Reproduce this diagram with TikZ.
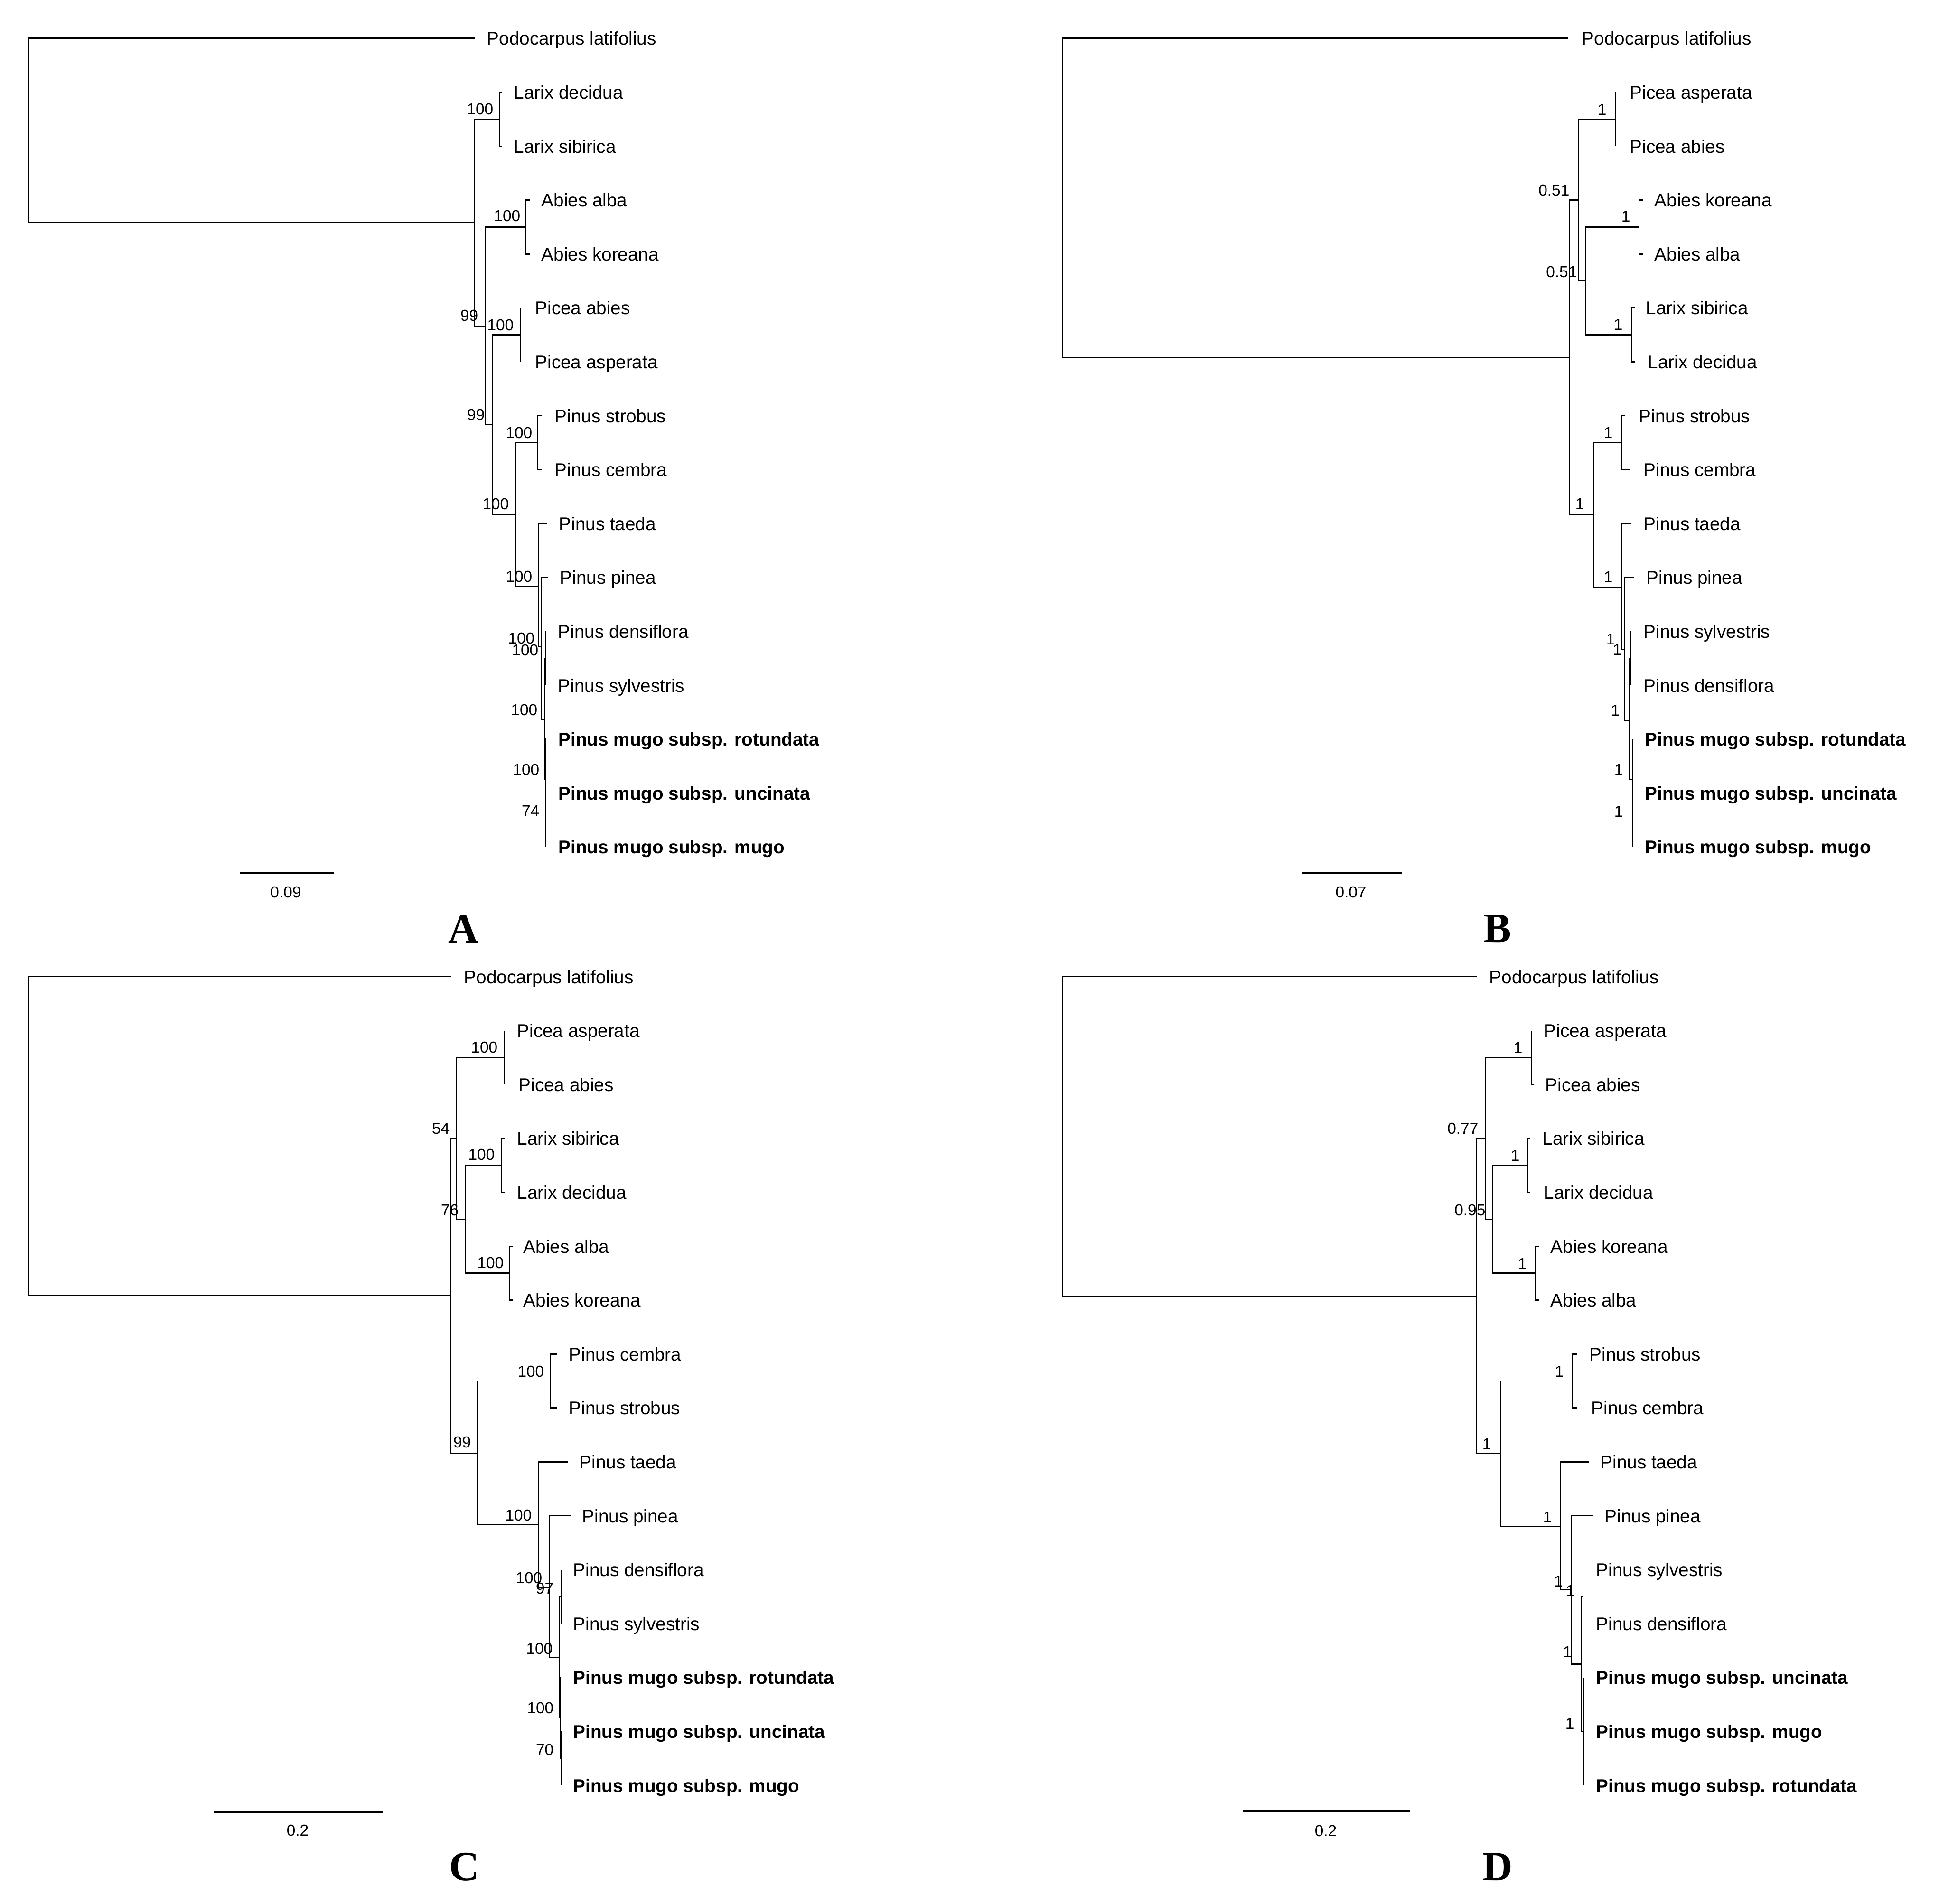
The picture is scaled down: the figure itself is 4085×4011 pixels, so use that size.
\documentclass[tikz,border=0pt]{standalone}
\usepackage{fontspec}
\setmainfont{Liberation Sans}
\newfontfamily\panelfont{Liberation Serif}
\usetikzlibrary{positioning}

\begin{document}
\begin{tikzpicture}[x=0.01cm, y=-0.01cm]
    % Styles
    \tikzstyle{branch} = [draw, line width=0.8pt]
    \tikzstyle{scalebar} = [draw, line width=1pt]
    \tikzstyle{taxon} = [anchor=base west, inner sep=0pt, font=\fontsize{11}{13}\selectfont]
    \tikzstyle{support} = [anchor=base east, inner sep=0pt, font=\fontsize{9.5}{11}\selectfont]
    \tikzstyle{scalelabel} = [inner sep=0pt, font=\fontsize{9.5}{11}\selectfont]
    \tikzstyle{panel} = [inner sep=0pt, font=\panelfont\bfseries\fontsize{25}{28}\selectfont]

    \useasboundingbox (0,0) rectangle (4085,4011);
    \fill[white] (0,0) rectangle (4085,4011);

    % ---------- Tree A ----------
    % Leaves
    \foreach \id/\tx/\lx/\k/\name in {
        pod/1000/1025/0/Podocarpus latifolius, ldec/1058/1082/1/Larix decidua,
        lsib/1058/1082/2/Larix sibirica, aalb/1117/1140/3/Abies alba,
        akor/1117/1140/4/Abies koreana, pabi/1097/1127/5/Picea abies,
        pasp/1097/1127/6/Picea asperata, pstr/1142/1168/7/Pinus strobus,
        pcem/1142/1168/8/Pinus cembra, ptae/1152/1177/9/Pinus taeda,
        ppin/1155/1179/10/Pinus pinea, pden/1150/1175/11/Pinus densiflora,
        psyl/1150/1175/12/Pinus sylvestris,
        prot/1150/1176/13/\textbf{Pinus mugo subsp. rotundata},
        punc/1150/1176/14/\textbf{Pinus mugo subsp. uncinata},
        pmug/1150/1176/15/\textbf{Pinus mugo subsp. mugo}}{
        \coordinate (A-\id) at (\tx, 80.8+113.6*\k);
        \node[taxon] (A-\id-lbl) at (\lx, 94.8+113.6*\k) {\name};
    }
    % Inner nodes
    \coordinate (A-R)  at (60,469);
    \coordinate (A-n1) at (1000,469);
    \coordinate (A-lx) at (1052,251.2);
    \coordinate (A-n2) at (1022,687);
    \coordinate (A-ab) at (1108,478.4);
    \coordinate (A-n3) at (1037,895);
    \coordinate (A-pc) at (1097,705.6);
    \coordinate (A-n4) at (1087,1084);
    \coordinate (A-sc) at (1133,932.8);
    \coordinate (A-n5) at (1134,1236);
    \coordinate (A-n6) at (1140,1362);
    \coordinate (A-n7) at (1147,1516);
    \coordinate (A-ds) at (1150,1387.2);
    \coordinate (A-mg) at (1149,1643);
    \coordinate (A-um) at (1150,1728);
    % Edges
    \foreach \p/\c in {R/pod, R/n1, n1/lx, n1/n2, lx/ldec, lx/lsib, n2/ab, n2/n3,
        ab/aalb, ab/akor, n3/pc, n3/n4, pc/pabi, pc/pasp, n4/sc, n4/n5, sc/pstr,
        sc/pcem, n5/ptae, n5/n6, n6/ppin, n6/n7, n7/ds, n7/mg, ds/pden, ds/psyl,
        mg/prot, mg/um, um/punc, um/pmug}
        \draw[branch] (A-\p) |- (A-\c);
    % Support values
    \foreach \x/\y/\v [count=\i] in {1040/229/100, 1008/664/99, 1097/454/100,
        1022/873/99, 1083/684/100, 1122/911/100, 1073/1061/100, 1122/1214/100,
        1127/1344/100, 1135/1369/100, 1133/1495/100, 1137/1621/100, 1137/1708/74}
        \node[support] (A-s\i) at (\x, \y+12) {\v};
    % Scale bar and panel letter
    \coordinate (A-bar1) at (506,1840);
    \coordinate (A-bar2) at (704,1840);
    \draw[scalebar] (A-bar1) -- (A-bar2);
    \node[scalelabel] (A-bar) at (602,1880) {0.09};
    \node[panel] (panelA) at (976,1957) {A};

    % ---------- Tree B ----------
    % Leaves
    \foreach \id/\tx/\lx/\k/\name in {
        pod/3303/3332/0/Podocarpus latifolius, pasp/3404/3433/1/Picea asperata,
        pabi/3404/3433/2/Picea abies, akor/3461/3485/3/Abies koreana,
        aalb/3461/3485/4/Abies alba, lsib/3445/3467/5/Larix sibirica,
        ldec/3445/3471/6/Larix decidua, pstr/3423/3452/7/Pinus strobus,
        pcem/3435/3462/8/Pinus cembra, ptae/3437/3462/9/Pinus taeda,
        ppin/3443/3468/10/Pinus pinea, psyl/3435/3462/11/Pinus sylvestris,
        pden/3435/3462/12/Pinus densiflora,
        prot/3439/3465/13/\textbf{Pinus mugo subsp. rotundata},
        punc/3440/3465/14/\textbf{Pinus mugo subsp. uncinata},
        pmug/3440/3465/15/\textbf{Pinus mugo subsp. mugo}}{
        \coordinate (B-\id) at (\tx, 80.8+113.6*\k);
        \node[taxon] (B-\id-lbl) at (\lx, 94.8+113.6*\k) {\name};
    }
    % Inner nodes
    \coordinate (B-R)  at (2238,753.3);
    \coordinate (B-n1) at (3307,753.3);
    \coordinate (B-n2) at (3326,421.6);
    \coordinate (B-pc) at (3404,251.2);
    \coordinate (B-n3) at (3341,592);
    \coordinate (B-ab) at (3453,478.4);
    \coordinate (B-lx) at (3438,705.6);
    \coordinate (B-n4) at (3357,1085);
    \coordinate (B-sc) at (3416,932.8);
    \coordinate (B-n5) at (3416,1237);
    \coordinate (B-n6) at (3423,1368);
    \coordinate (B-n7) at (3432,1518);
    \coordinate (B-ds) at (3435,1387.2);
    \coordinate (B-mg) at (3439,1643);
    \coordinate (B-um) at (3440,1728);
    % Edges
    \foreach \p/\c in {R/pod, R/n1, n1/n2, n1/n4, n2/pc, n2/n3, pc/pasp, pc/pabi,
        n3/ab, n3/lx, ab/akor, ab/aalb, lx/lsib, lx/ldec, n4/sc, n4/n5, sc/pstr,
        sc/pcem, n5/ptae, n5/n6, n6/ppin, n6/n7, n7/ds, n7/mg, ds/psyl, ds/pden,
        mg/prot, mg/um, um/punc, um/pmug}
        \draw[branch] (B-\p) |- (B-\c);
    % Support values
    \foreach \x/\y/\v [count=\i] in {3385/230/1, 3307/400/0.51, 3435/455/1,
        3323/572/0.51, 3419/683/1, 3398/911/1, 3338/1061/1, 3398/1215/1,
        3403/1346/1, 3417/1368/1, 3413/1496/1, 3420/1621/1, 3420/1709/1}
        \node[support] (B-s\i) at (\x, \y+12) {\v};
    % Scale bar and panel letter
    \coordinate (B-bar1) at (2744,1840);
    \coordinate (B-bar2) at (2953,1840);
    \draw[scalebar] (B-bar1) -- (B-bar2);
    \node[scalelabel] (B-bar) at (2846,1880) {0.07};
    \node[panel] (panelB) at (3155,1957) {B};

    % ---------- Tree C ----------
    % Leaves
    \foreach \id/\tx/\lx/\k/\name in {
        pod/950/977/0/Podocarpus latifolius, pasp/1063/1089/1/Picea asperata,
        pabi/1063/1092/2/Picea abies, lsib/1064/1089/3/Larix sibirica,
        ldec/1064/1089/4/Larix decidua, aalb/1080/1102/5/Abies alba,
        akor/1080/1102/6/Abies koreana, pcem/1173/1198/7/Pinus cembra,
        pstr/1173/1198/8/Pinus strobus, ptae/1196/1220/9/Pinus taeda,
        ppin/1202/1226/10/Pinus pinea, pden/1182/1207/11/Pinus densiflora,
        psyl/1182/1207/12/Pinus sylvestris,
        prot/1182/1207/13/\textbf{Pinus mugo subsp. rotundata},
        punc/1182/1207/14/\textbf{Pinus mugo subsp. uncinata},
        pmug/1182/1207/15/\textbf{Pinus mugo subsp. mugo}}{
        \coordinate (C-\id) at (\tx, 2058+113.6*\k);
        \node[taxon] (C-\id-lbl) at (\lx, 2072+113.6*\k) {\name};
    }
    % Inner nodes
    \coordinate (C-R)  at (60,2730);
    \coordinate (C-n1) at (950,2730);
    \coordinate (C-n2) at (962,2398.8);
    \coordinate (C-pc) at (1063,2228.4);
    \coordinate (C-n3) at (981,2569.2);
    \coordinate (C-lx) at (1056,2455.6);
    \coordinate (C-ab) at (1074,2682.8);
    \coordinate (C-n4) at (1006,3062);
    \coordinate (C-sc) at (1159,2910);
    \coordinate (C-n5) at (1134,3213);
    \coordinate (C-n6) at (1157,3345);
    \coordinate (C-n7) at (1178,3492);
    \coordinate (C-ds) at (1182,3364.4);
    \coordinate (C-mg) at (1181,3620);
    \coordinate (C-um) at (1182,3705.2);
    % Edges
    \foreach \p/\c in {R/pod, R/n1, n1/n2, n1/n4, n2/pc, n2/n3, pc/pasp, pc/pabi,
        n3/lx, n3/ab, lx/lsib, lx/ldec, ab/aalb, ab/akor, n4/sc, n4/n5, sc/pcem,
        sc/pstr, n5/ptae, n5/n6, n6/ppin, n6/n7, n7/ds, n7/mg, ds/pden, ds/psyl,
        mg/prot, mg/um, um/punc, um/pmug}
        \draw[branch] (C-\p) |- (C-\c);
    % Support values
    \foreach \x/\y/\v [count=\i] in {1049/2206/100, 948/2377/54, 1043/2432/100,
        967/2549/76, 1062/2660/100, 1147/2889/100, 993/3038/99, 1121/3192/100,
        1143/3324/100, 1167/3346/97, 1165/3473/100, 1167/3598/100, 1167/3686/70}
        \node[support] (C-s\i) at (\x, \y+12) {\v};
    % Scale bar and panel letter
    \coordinate (C-bar1) at (450,3818);
    \coordinate (C-bar2) at (807,3818);
    \draw[scalebar] (C-bar1) -- (C-bar2);
    \node[scalelabel] (C-bar) at (627,3857) {0.2};
    \node[panel] (panelC) at (978,3934) {C};

    % ---------- Tree D ----------
    % Leaves
    \foreach \id/\tx/\lx/\k/\name in {
        pod/3112/3137/0/Podocarpus latifolius, pasp/3227/3252/1/Picea asperata,
        pabi/3231/3255/2/Picea abies, lsib/3224/3249/3/Larix sibirica,
        ldec/3224/3252/4/Larix decidua, akor/3243/3266/5/Abies koreana,
        aalb/3243/3266/6/Abies alba, pstr/3323/3348/7/Pinus strobus,
        pcem/3323/3352/8/Pinus cembra, ptae/3347/3371/9/Pinus taeda,
        ppin/3356/3380/10/Pinus pinea, psyl/3335/3362/11/Pinus sylvestris,
        pden/3335/3362/12/Pinus densiflora,
        punc/3336/3362/13/\textbf{Pinus mugo subsp. uncinata},
        pmug/3336/3362/14/\textbf{Pinus mugo subsp. mugo},
        prot/3336/3362/15/\textbf{Pinus mugo subsp. rotundata}}{
        \coordinate (D-\id) at (\tx, 2058+113.6*\k);
        \node[taxon] (D-\id-lbl) at (\lx, 2072+113.6*\k) {\name};
    }
    % Inner nodes
    \coordinate (D-R)  at (2238,2731);
    \coordinate (D-n1) at (3110,2731);
    \coordinate (D-n2) at (3129,2398.8);
    \coordinate (D-pc) at (3227,2228.4);
    \coordinate (D-n3) at (3145,2569.2);
    \coordinate (D-lx) at (3219,2455.6);
    \coordinate (D-ab) at (3235,2682.8);
    \coordinate (D-n4) at (3161,3063);
    \coordinate (D-sc) at (3313,2910);
    \coordinate (D-n5) at (3288,3216);
    \coordinate (D-n6) at (3311,3350);
    \coordinate (D-n7) at (3332,3506.4);
    \coordinate (D-ds) at (3335,3364.4);
    \coordinate (D-mg) at (3336,3648.4);
    % Edges
    \foreach \p/\c in {R/pod, R/n1, n1/n2, n1/n4, n2/pc, n2/n3, pc/pasp, pc/pabi,
        n3/lx, n3/ab, lx/lsib, lx/ldec, ab/akor, ab/aalb, n4/sc, n4/n5, sc/pstr,
        sc/pcem, n5/ptae, n5/n6, n6/ppin, n6/n7, n7/ds, n7/mg, ds/psyl, ds/pden,
        mg/punc, mg/pmug, mg/prot}
        \draw[branch] (D-\p) |- (D-\c);
    % Support values
    \foreach \x/\y/\v [count=\i] in {3208/2207/1, 3115/2377/0.77, 3202/2434/1,
        3130/2549/0.95, 3217/2662/1, 3295/2889/1, 3142/3042/1, 3270/3196/1,
        3293/3331/1, 3318/3351/1, 3312/3480/1, 3317/3631/1}
        \node[support] (D-s\i) at (\x, \y+12) {\v};
    % Scale bar and panel letter
    \coordinate (D-bar1) at (2618,3816);
    \coordinate (D-bar2) at (2970,3816);
    \draw[scalebar] (D-bar1) -- (D-bar2);
    \node[scalelabel] (D-bar) at (2793,3858) {0.2};
    \node[panel] (panelD) at (3155,3934) {D};

\end{tikzpicture}
\end{document}
